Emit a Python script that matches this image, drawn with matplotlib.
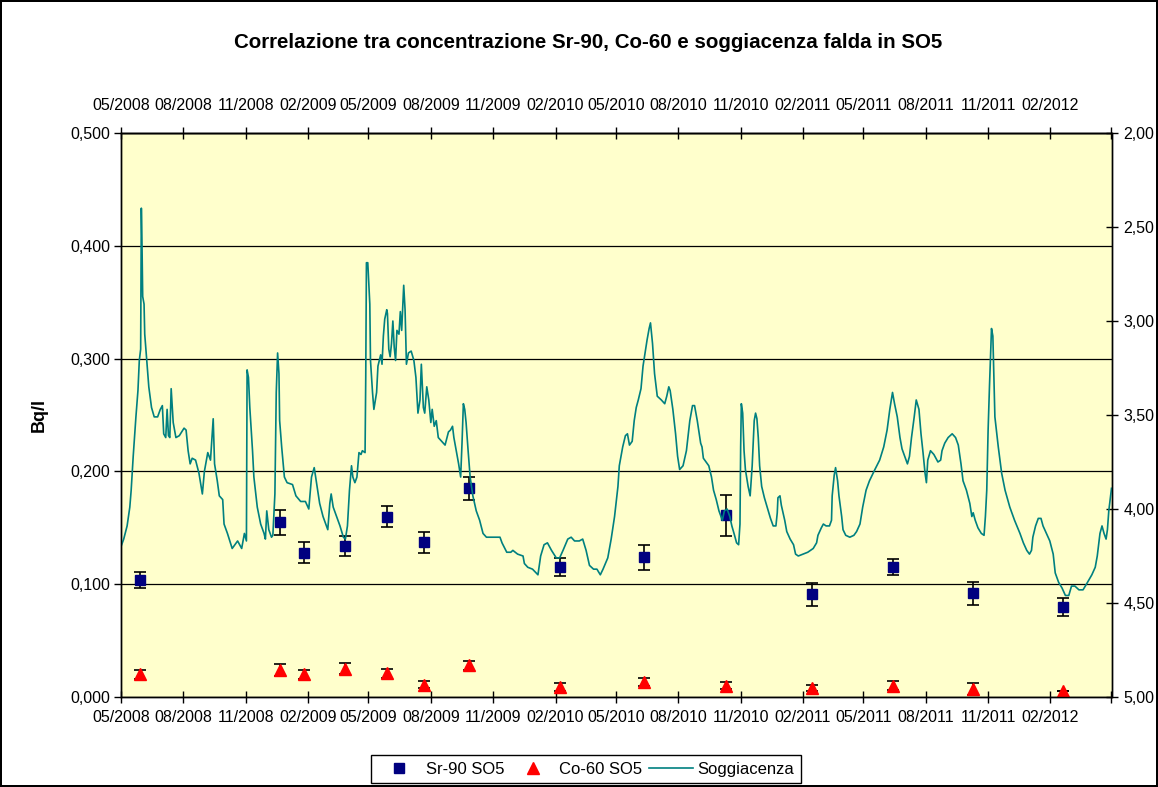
import matplotlib
matplotlib.use('Agg')
import matplotlib.pyplot as plt
import matplotlib.dates as mdates
import pandas as pd
from matplotlib.ticker import FuncFormatter, MultipleLocator
from matplotlib.lines import Line2D

plt.rcParams['font.family'] = ['Liberation Sans', 'DejaVu Sans']

# ---------------- data ----------------
title = "Correlazione tra concentrazione Sr-90, Co-60 e soggiacenza falda in SO5"
start_date = "2008-05-01"
end_date = "2012-05-01"

sample_dates = ["2008-05-29", "2008-12-22", "2009-01-26", "2009-03-28", "2009-05-28",
                "2009-07-22", "2009-09-27", "2010-02-08", "2010-06-12", "2010-10-11",
                "2011-02-14", "2011-06-14", "2011-10-10", "2012-02-19"]
sr90 = [0.104, 0.155, 0.128, 0.134, 0.160, 0.137, 0.185, 0.115, 0.124, 0.161,
        0.091, 0.115, 0.092, 0.080]
sr90_err = [0.007, 0.011, 0.009, 0.009, 0.009, 0.009, 0.010, 0.008, 0.011, 0.018,
            0.010, 0.007, 0.010, 0.008]
co60 = [0.020, 0.024, 0.020, 0.025, 0.021, 0.011, 0.028, 0.009, 0.013, 0.010,
        0.008, 0.010, 0.007, 0.005]
co60_err = [0.004, 0.005, 0.004, 0.005, 0.004, 0.003, 0.004, 0.0035, 0.0035, 0.003,
            0.003, 0.004, 0.005, 0.0]

# Soggiacenza (m): days since 2008-05-01 and depth
sogg_day = [0, 4, 9, 13, 15, 18, 22, 25, 27, 29, 30, 31, 32, 34, 35, 38, 41, 45, 49, 54,
            58, 61, 63, 66, 68, 70, 72, 74, 77, 81, 86, 93, 96, 99, 102, 105, 110, 115, 120, 123,
            128, 132, 136, 138, 142, 145, 150, 152, 157, 164, 172, 178, 182, 185, 186, 188, 190, 194, 196, 201,
            206, 211, 213, 215, 218, 222, 224, 227, 229, 231, 233, 234, 237, 241, 245, 253, 258, 265, 272, 277,
            281, 285, 288, 293, 298, 305, 308, 310, 313, 318, 323, 328, 331, 334, 337, 340, 342, 345, 348, 351,
            354, 356, 360, 361, 362, 364, 367, 368, 371, 373, 377, 379, 383, 385, 387, 389, 392, 393, 395, 397,
            399, 401, 403, 405, 407, 410, 412, 414, 417, 419, 421, 424, 428, 432, 435, 438, 441, 443, 446, 448,
            451, 454, 457, 459, 462, 465, 468, 473, 478, 483, 486, 489, 491, 495, 498, 501, 503, 505, 507, 509,
            512, 515, 519, 524, 529, 534, 539, 549, 559, 562, 569, 575,
            578, 585, 593, 595, 600, 607, 615, 619, 624, 629, 635, 642, 647, 652, 659, 664, 669, 676, 681, 686,
            691, 697, 702, 707, 711, 718, 723, 728, 733, 735, 740, 744, 747, 750, 754, 757, 760, 763, 767, 770,
            773, 776, 779, 781, 784, 787, 791, 797, 802, 805, 808, 810, 814, 818, 821, 824, 829, 834, 839, 843,
            846, 850, 855,
            857, 859, 863, 867, 871, 874, 878, 882, 887, 890, 894, 898, 901, 905, 908, 911, 913, 914, 915, 917,
            919, 921, 925, 928, 931, 934, 936, 938, 940, 942, 945, 949, 954, 958, 962, 966, 968, 969, 972, 974,
            979, 982, 987, 992, 995, 999, 1006, 1013, 1021, 1026, 1028, 1033, 1036, 1040, 1045, 1048, 1049, 1052, 1054, 1057,
            1059, 1063, 1065, 1069, 1075, 1081, 1085, 1090, 1094, 1099, 1104, 1112, 1119, 1125, 1130, 1134, 1138, 1141,
            1145, 1149, 1152, 1156, 1160, 1163, 1166, 1170, 1173, 1177, 1180, 1183, 1186, 1188, 1190, 1194, 1199, 1205, 1209, 1211,
            1215, 1220, 1226, 1231, 1235, 1239, 1242, 1247, 1252, 1255, 1257, 1260, 1264, 1269, 1273, 1275, 1277, 1279, 1281, 1284,
            1286, 1289, 1294, 1299, 1304, 1311, 1318, 1326, 1331, 1336, 1340, 1343, 1345, 1349, 1353, 1357, 1360, 1365, 1370, 1375,
            1378, 1383, 1388, 1393, 1398, 1402, 1407, 1413, 1419, 1424, 1432, 1437, 1440, 1444, 1447, 1450, 1453, 1455, 1457, 1461]
sogg = [4.20, 4.16, 4.09, 3.99, 3.90, 3.72, 3.51, 3.37, 3.21, 3.15, 2.40, 2.60, 2.87, 2.91, 3.07, 3.21, 3.35, 3.46, 3.51, 3.51,
        3.47, 3.45, 3.60, 3.62, 3.47, 3.61, 3.62, 3.36, 3.54, 3.62, 3.61, 3.57, 3.58, 3.69, 3.76, 3.73, 3.74, 3.81, 3.92, 3.80,
        3.70, 3.74, 3.52, 3.76, 3.85, 3.93, 3.95, 4.08, 4.13, 4.21, 4.17, 4.21, 4.13, 4.17, 3.26, 3.30, 3.46, 3.69, 3.83, 3.99,
        4.08, 4.13, 4.16, 4.01, 4.11, 4.15, 4.14, 3.92, 3.38, 3.17, 3.28, 3.53, 3.67, 3.83, 3.86, 3.87, 3.93, 3.96, 3.96, 4.00,
        3.83, 3.78, 3.85, 3.97, 4.04, 4.11, 3.97, 3.92, 3.99, 4.04, 4.09, 4.15, 4.16, 4.09, 3.90, 3.77, 3.83, 3.86, 3.83, 3.70,
        3.71, 3.69, 3.70, 3.30, 2.69, 2.69, 2.91, 3.21, 3.38, 3.47, 3.38, 3.24, 3.18, 3.23, 3.08, 2.99, 2.94, 2.96, 3.15, 3.19,
        3.12, 3.00, 3.14, 3.21, 3.05, 3.07, 2.95, 3.05, 2.81, 2.94, 3.23, 3.17, 3.16, 3.21, 3.30, 3.49, 3.42, 3.23, 3.46, 3.49,
        3.35, 3.42, 3.54, 3.47, 3.56, 3.53, 3.62, 3.64, 3.66, 3.59, 3.58, 3.56, 3.62, 3.70, 3.76, 3.83, 3.65, 3.44, 3.47, 3.54,
        3.69, 3.83, 3.93, 4.01, 4.06, 4.13, 4.15, 4.15, 4.15, 4.18, 4.23, 4.23,
        4.22, 4.24, 4.25, 4.29, 4.31, 4.32, 4.35, 4.25, 4.19, 4.18, 4.22, 4.26, 4.26, 4.22, 4.16, 4.15, 4.17, 4.17, 4.16, 4.22,
        4.30, 4.32, 4.32, 4.35, 4.32, 4.26, 4.16, 4.04, 3.88, 3.77, 3.67, 3.61, 3.60, 3.66, 3.64, 3.53, 3.46, 3.42, 3.36, 3.24,
        3.17, 3.10, 3.04, 3.01, 3.12, 3.28, 3.40, 3.42, 3.44, 3.40, 3.35, 3.37, 3.47, 3.60, 3.72, 3.79, 3.77, 3.69, 3.53, 3.45,
        3.45, 3.53, 3.65,
        3.67, 3.73, 3.75, 3.77, 3.83, 3.90, 3.95, 4.01, 4.06, 4.01, 4.00, 4.04, 4.09, 4.14, 4.18, 4.19, 4.08, 3.67, 3.44, 3.49,
        3.69, 3.79, 3.88, 3.93, 3.77, 3.53, 3.49, 3.52, 3.62, 3.77, 3.88, 3.94, 4.00, 4.05, 4.09, 4.09, 4.02, 3.94, 3.93, 3.98,
        4.06, 4.12, 4.16, 4.19, 4.24, 4.25, 4.24, 4.23, 4.21, 4.18, 4.14, 4.10, 4.08, 4.09, 4.09, 4.06, 3.93, 3.82, 3.78, 3.85,
        3.93, 4.04, 4.11, 4.14, 4.15, 4.14, 4.12, 4.08, 3.99, 3.90, 3.85, 3.79, 3.74, 3.67, 3.58, 3.47, 3.38, 3.44,
        3.51, 3.62, 3.68, 3.72, 3.76, 3.72, 3.62, 3.51, 3.42, 3.47, 3.60, 3.70, 3.81, 3.86, 3.74, 3.69, 3.71, 3.75, 3.74, 3.69,
        3.65, 3.62, 3.60, 3.62, 3.66, 3.76, 3.85, 3.90, 3.97, 4.04, 4.02, 4.06, 4.10, 4.13, 4.14, 4.04, 3.90, 3.58, 3.35, 3.04,
        3.08, 3.51, 3.67, 3.81, 3.90, 3.99, 4.06, 4.13, 4.18, 4.22, 4.24, 4.22, 4.15, 4.09, 4.05, 4.05, 4.09, 4.13, 4.17, 4.24,
        4.34, 4.39, 4.42, 4.46, 4.46, 4.41, 4.41, 4.43, 4.43, 4.40, 4.35, 4.31, 4.25, 4.13, 4.09, 4.13, 4.16, 4.11, 4.01, 3.89]

x_tick_dates = ["2008-05-01", "2008-08-01", "2008-11-01", "2009-02-01", "2009-05-01", "2009-08-01",
                "2009-11-01", "2010-02-01", "2010-05-01", "2010-08-01", "2010-11-01", "2011-02-01",
                "2011-05-01", "2011-08-01", "2011-11-01", "2012-02-01", "2012-05-01"]
x_tick_labels = ["05/2008", "08/2008", "11/2008", "02/2009", "05/2009", "08/2009", "11/2009",
                 "02/2010", "05/2010", "08/2010", "11/2010", "02/2011", "05/2011", "08/2011",
                 "11/2011", "02/2012", ""]
legend_labels = ["Sr-90 SO5", "Co-60 SO5", "Soggiacenza"]

# ---------------- plot ----------------
W, H = 1158, 787
fig = plt.figure(figsize=(W / 100, H / 100), dpi=100)
fig.patch.set_facecolor('white')

ax = fig.add_axes([121 / W, (H - 697) / H, 990.5 / W, 564 / H])
ax.set_facecolor('#FFFFCC')

dates = pd.to_datetime(sample_dates)
ax.errorbar(dates, sr90, yerr=sr90_err, fmt='s', color='#000080', ms=7,
            ecolor='black', elinewidth=1.2, capsize=4.5, capthick=1.2, zorder=3)
ax.errorbar(dates, co60, yerr=co60_err, fmt='^', color='#FF0000', ms=8,
            ecolor='black', elinewidth=1.2, capsize=4.5, capthick=1.2, zorder=3)

ax.set_ylim(0, 0.5)
ax.yaxis.set_major_locator(MultipleLocator(0.1))
ax.yaxis.set_major_formatter(FuncFormatter(lambda v, p: f"{v:.3f}".replace('.', ',')))
ax.yaxis.grid(True, color='black', lw=0.9)
ax.set_axisbelow(True)

x0 = pd.Timestamp(start_date)
x1 = pd.Timestamp(end_date)
ax.set_xlim(x0, x1)
tick_pos = mdates.date2num(pd.to_datetime(x_tick_dates).to_pydatetime())
ax.set_xticks(tick_pos)
ax.set_xticklabels(x_tick_labels)

ax2 = ax.twinx()
sogg_dates = x0 + pd.to_timedelta(sogg_day, unit='D')
ax2.plot(sogg_dates, sogg, color='#008080', lw=1.2)
ax2.set_ylim(5, 2)
ax2.yaxis.set_major_locator(MultipleLocator(0.5))
ax2.yaxis.set_major_formatter(FuncFormatter(lambda v, p: f"{v:.2f}".replace('.', ',')))
ax2.set_xlim(x0, x1)

secax = ax.secondary_xaxis('top')
secax.set_xticks(tick_pos)
secax.set_xticklabels(x_tick_labels)

for a in (ax, ax2):
    for s in a.spines.values():
        s.set_color('black')
        s.set_linewidth(1.0)
for s in secax.spines.values():
    s.set_linewidth(1.0)

ax.tick_params(axis='y', direction='out', length=5, width=1, labelsize=11.5, pad=3)
ax.tick_params(axis='x', direction='inout', length=9, width=1, labelsize=11.5, pad=5)
secax.tick_params(axis='x', direction='inout', length=9, width=1, labelsize=11.5, pad=10)
ax2.tick_params(axis='y', direction='inout', length=9, width=1, labelsize=11.5, pad=4)

ax.set_ylabel('Bq/l', fontsize=13, fontweight='bold')
ax.yaxis.set_label_coords(-0.074, 0.5)

fig.text(588.5 / W, 1 - 43 / H, title, ha='center', va='center',
         fontsize=14.8, fontweight='bold')

handles = [Line2D([], [], marker='s', ls='none', color='#000080', ms=7),
           Line2D([], [], marker='^', ls='none', color='#FF0000', ms=8),
           Line2D([], [], color='#008080', lw=1.2)]
leg = fig.legend(handles, legend_labels, loc='upper center',
                 bbox_to_anchor=(586 / W, 1 - 755 / H), ncol=3, frameon=True,
                 fancybox=False, edgecolor='black', framealpha=1, fontsize=12,
                 handlelength=2.6, handletextpad=0.3, columnspacing=0.4,
                 borderpad=0.4, borderaxespad=0)
leg.get_frame().set_linewidth(1.0)

fig.patch.set_edgecolor('black')
fig.patch.set_linewidth(1.5)

fig.savefig('out.png', dpi=100)
